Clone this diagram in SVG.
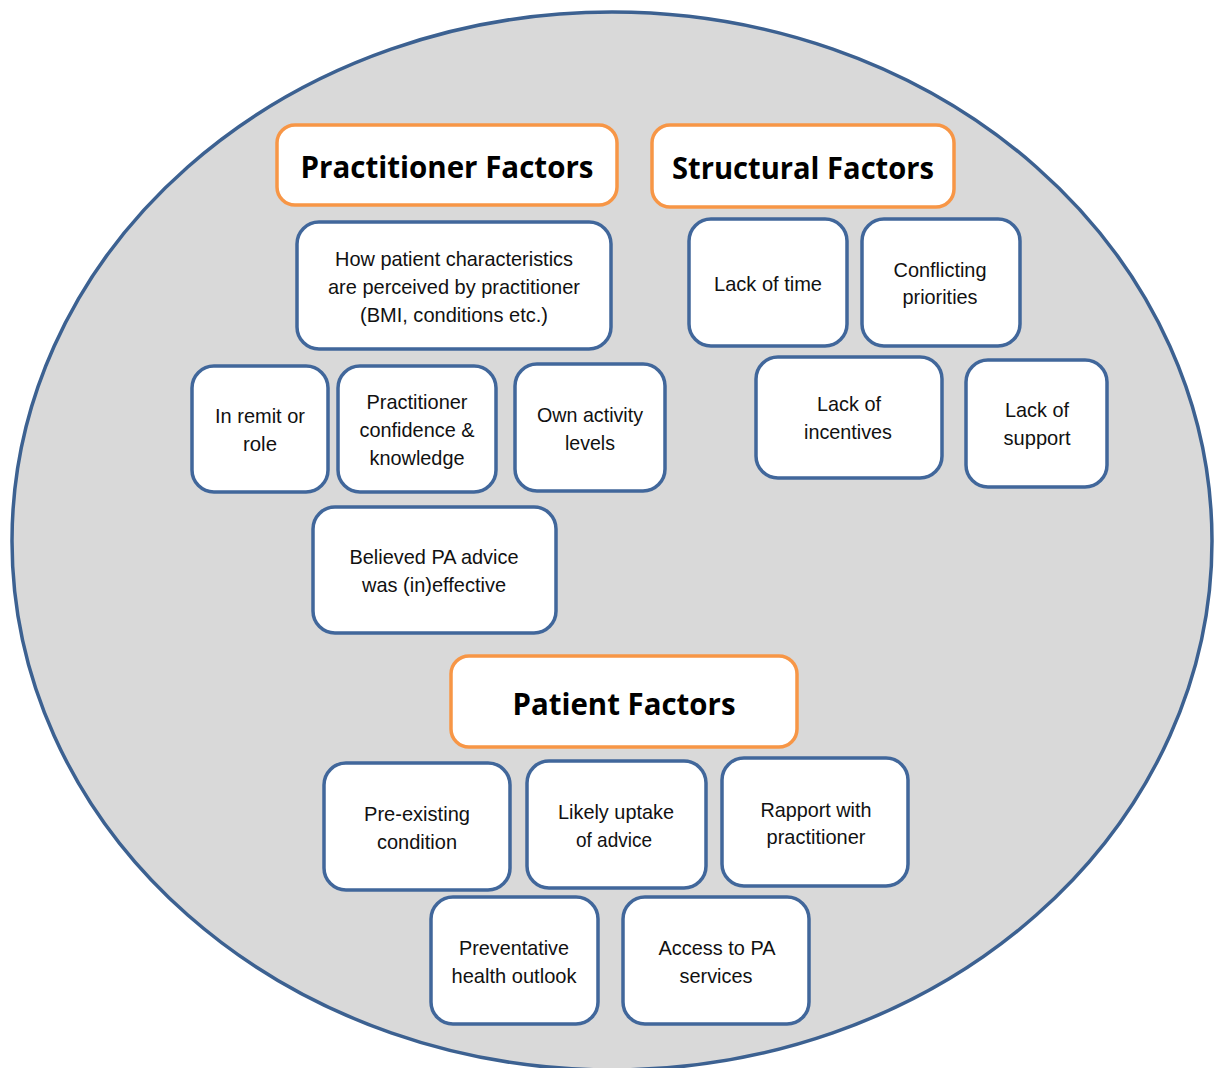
<svg xmlns="http://www.w3.org/2000/svg" width="1216" height="1068" viewBox="0 0 1216 1068">
<style>
.bg{fill:#d9d9d9;stroke:#3c6191;stroke-width:3.5}
.n{fill:#fff;stroke:#41679b;stroke-width:3.5}
.h{fill:#fff;stroke:#f79646;stroke-width:3.5}
.t{font-family:"Liberation Sans",Arial,sans-serif;font-size:21px;fill:#111;text-anchor:middle}
.ht{font-family:"Open Sans","Noto Sans",sans-serif;font-weight:bold;font-size:31px;fill:#000;text-anchor:middle}
</style>
<rect width="1216" height="1068" fill="#fff"/>
<ellipse class="bg" cx="612" cy="541" rx="600" ry="529"/>
<g id="practitioner-factors">
<rect class="h" x="277" y="125" width="340" height="80" rx="18"/>
<text class="ht" x="447" y="178" textLength="293" lengthAdjust="spacingAndGlyphs">Practitioner Factors</text>
</g>
<g id="structural-factors">
<rect class="h" x="652" y="125" width="302" height="82" rx="18"/>
<text class="ht" x="803" y="179" textLength="262" lengthAdjust="spacingAndGlyphs">Structural Factors</text>
</g>
<g id="patient-factors">
<rect class="h" x="451" y="656" width="346" height="91" rx="18"/>
<text class="ht" x="624" y="715" textLength="223" lengthAdjust="spacingAndGlyphs">Patient Factors</text>
</g>
<g id="how-patient">
<rect class="n" x="297" y="222" width="314" height="127" rx="22"/>
<text class="t" x="454" y="266" textLength="238" lengthAdjust="spacingAndGlyphs">How patient characteristics</text>
<text class="t" x="454" y="294" textLength="252" lengthAdjust="spacingAndGlyphs">are perceived by practitioner</text>
<text class="t" x="454" y="322" textLength="188" lengthAdjust="spacingAndGlyphs">(BMI, conditions etc.)</text>
</g>
<g id="in-remit">
<rect class="n" x="192" y="366" width="136" height="126" rx="22"/>
<text class="t" x="260" y="423" textLength="90" lengthAdjust="spacingAndGlyphs">In remit or</text>
<text class="t" x="260" y="451" textLength="34" lengthAdjust="spacingAndGlyphs">role</text>
</g>
<g id="practitioner-confidence">
<rect class="n" x="338" y="366" width="158" height="126" rx="22"/>
<text class="t" x="417" y="409" textLength="101" lengthAdjust="spacingAndGlyphs">Practitioner</text>
<text class="t" x="417" y="437" textLength="115" lengthAdjust="spacingAndGlyphs">confidence &amp;</text>
<text class="t" x="417" y="465" textLength="95" lengthAdjust="spacingAndGlyphs">knowledge</text>
</g>
<g id="own-activity">
<rect class="n" x="515" y="364" width="150" height="127" rx="22"/>
<text class="t" x="590" y="422" textLength="106" lengthAdjust="spacingAndGlyphs">Own activity</text>
<text class="t" x="590" y="450" textLength="50" lengthAdjust="spacingAndGlyphs">levels</text>
</g>
<g id="believed-pa">
<rect class="n" x="313" y="507" width="243" height="126" rx="22"/>
<text class="t" x="434" y="564" textLength="169" lengthAdjust="spacingAndGlyphs">Believed PA advice</text>
<text class="t" x="434" y="592" textLength="144" lengthAdjust="spacingAndGlyphs">was (in)effective</text>
</g>
<g id="lack-of-time">
<rect class="n" x="689" y="219" width="158" height="127" rx="22"/>
<text class="t" x="768" y="291" textLength="108" lengthAdjust="spacingAndGlyphs">Lack of time</text>
</g>
<g id="conflicting">
<rect class="n" x="862" y="219" width="158" height="127" rx="22"/>
<text class="t" x="940" y="277" textLength="93" lengthAdjust="spacingAndGlyphs">Conflicting</text>
<text class="t" x="940" y="304" textLength="75" lengthAdjust="spacingAndGlyphs">priorities</text>
</g>
<g id="lack-of-incentives">
<rect class="n" x="756" y="357" width="186" height="121" rx="22"/>
<text class="t" x="849" y="411" textLength="64" lengthAdjust="spacingAndGlyphs">Lack of</text>
<text class="t" x="848" y="439" textLength="88" lengthAdjust="spacingAndGlyphs">incentives</text>
</g>
<g id="lack-of-support">
<rect class="n" x="966" y="360" width="141" height="127" rx="22"/>
<text class="t" x="1037" y="417" textLength="64" lengthAdjust="spacingAndGlyphs">Lack of</text>
<text class="t" x="1037" y="445" textLength="67" lengthAdjust="spacingAndGlyphs">support</text>
</g>
<g id="pre-existing">
<rect class="n" x="324" y="763" width="186" height="127" rx="22"/>
<text class="t" x="417" y="821" textLength="106" lengthAdjust="spacingAndGlyphs">Pre-existing</text>
<text class="t" x="417" y="849" textLength="80" lengthAdjust="spacingAndGlyphs">condition</text>
</g>
<g id="likely-uptake">
<rect class="n" x="527" y="761" width="179" height="127" rx="22"/>
<text class="t" x="616" y="819" textLength="116" lengthAdjust="spacingAndGlyphs">Likely uptake</text>
<text class="t" x="614" y="847" textLength="76" lengthAdjust="spacingAndGlyphs">of advice</text>
</g>
<g id="rapport">
<rect class="n" x="722" y="758" width="186" height="128" rx="22"/>
<text class="t" x="816" y="817" textLength="111" lengthAdjust="spacingAndGlyphs">Rapport with</text>
<text class="t" x="816" y="844" textLength="99" lengthAdjust="spacingAndGlyphs">practitioner</text>
</g>
<g id="preventative">
<rect class="n" x="431" y="897" width="167" height="127" rx="22"/>
<text class="t" x="514" y="955" textLength="110" lengthAdjust="spacingAndGlyphs">Preventative</text>
<text class="t" x="514" y="983" textLength="125" lengthAdjust="spacingAndGlyphs">health outlook</text>
</g>
<g id="access">
<rect class="n" x="623" y="897" width="186" height="127" rx="22"/>
<text class="t" x="717" y="955" textLength="117" lengthAdjust="spacingAndGlyphs">Access to PA</text>
<text class="t" x="716" y="983" textLength="73" lengthAdjust="spacingAndGlyphs">services</text>
</g>
<g id="connectors"/>
</svg>
